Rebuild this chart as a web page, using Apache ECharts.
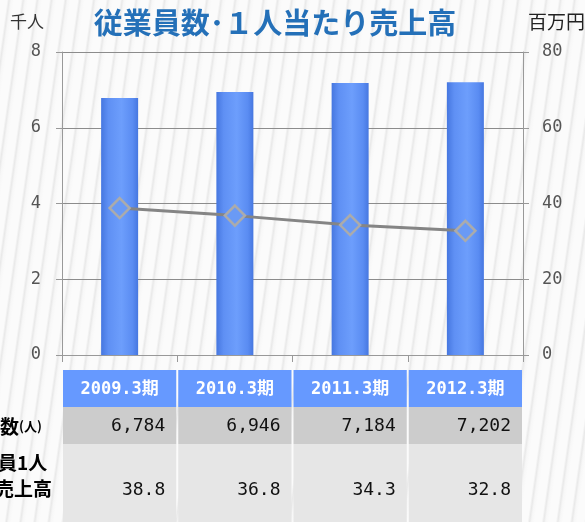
<!DOCTYPE html>
<html><head><meta charset="utf-8">
<script src="https://cdn.jsdelivr.net/npm/echarts@6/dist/echarts.min.js"></script>
<style>
html,body{margin:0;padding:0;}
body{width:585px;height:522px;overflow:hidden;
background:#f6f6f6 repeating-linear-gradient(98deg,#fbfbfb 0px,#fbfbfb 7px,#e9e9e9 9px,#f7f7f7 11px,#fbfbfb 14px);}
#c{width:585px;height:522px;}
</style></head>
<body><div id="c"></div>
<script>
const categories = ['2009.3期','2010.3期','2011.3期','2012.3期'];
const employeeCounts = [6784, 6946, 7184, 7202];
const salesPerEmployee = [38.8, 36.8, 34.3, 32.8];
const leftTicks = [0, 2, 4, 6, 8];
const rightTicks = [0, 20, 40, 60, 80];

const employeesThousand = employeeCounts.map(v => v / 1000);
const mono = '"DejaVu Sans Mono","Noto Sans CJK JP",monospace';
const jp = '"Noto Sans CJK JP",sans-serif';

const chart = echarts.init(document.getElementById('c'), null, {renderer:'canvas'});
const gridL = 62, gridR = 62, gridT = 52, gridB = 167;

const option = {
  backgroundColor: 'transparent',
  animation: false,
  grid: {left: gridL, right: gridR, top: gridT, bottom: gridB},
  xAxis: {
    type: 'category', data: categories,
    axisLine: {show: true, lineStyle: {color: '#999', width: 1}},
    axisTick: {show: true, length: 7, lineStyle: {color: '#999'}},
    axisLabel: {show: false},
    splitLine: {show: false}
  },
  yAxis: [
    {type: 'value', min: leftTicks[0], max: leftTicks[leftTicks.length-1], interval: 2,
     axisLine: {show: true, lineStyle: {color: '#999'}},
     axisTick: {show: true, length: 6, lineStyle: {color: '#999'}},
     axisLabel: {color: '#555', fontFamily: mono, fontSize: 17, margin: 21},
     splitLine: {show: true, lineStyle: {color: '#8c8c8c', width: 1}}},
    {type: 'value', min: rightTicks[0], max: rightTicks[rightTicks.length-1], interval: 20,
     axisLine: {show: true, lineStyle: {color: '#999'}},
     axisTick: {show: true, length: 6, lineStyle: {color: '#999'}},
     axisLabel: {color: '#555', fontFamily: mono, fontSize: 17, margin: 19},
     splitLine: {show: false}}
  ],
  series: [
    {type: 'bar', data: employeesThousand, barWidth: 37, yAxisIndex: 0,
     itemStyle: {color: new echarts.graphic.LinearGradient(0,0,1,0,[
       {offset:0,color:'#4677e0'},{offset:0.2,color:'#5f90f4'},{offset:0.55,color:'#6d9efc'},
       {offset:0.85,color:'#5a8cf2'},{offset:1,color:'#4677e0'}])}},
    {type: 'line', data: salesPerEmployee, yAxisIndex: 1, z: 5,
     lineStyle: {color: '#858585', width: 3},
     symbol: 'diamond', symbolSize: 20,
     itemStyle: {color: '#6a9af5', borderColor: '#ababab', borderWidth: 2.5}}
  ],
  graphic: []
};
chart.setOption(option);

const g = [];
g.push({type:'text', x: 275, y: 23, style:{text:'従業員数･１人当たり売上高', fill:'#2470b8', font:'bold 29px ' + jp, textAlign:'center', textVerticalAlign:'middle'}});
g.push({type:'text', x: 10, y: 22, style:{text:'千人', fill:'#333', font:'17px ' + jp, textVerticalAlign:'middle'}});
g.push({type:'text', x: 585, y: 22, style:{text:'百万円', fill:'#222', font:'19px ' + jp, textAlign:'right', textVerticalAlign:'middle'}});

const xs = categories.map((c,i) => chart.convertToPixel({xAxisIndex:0}, i));
const half = (xs.length > 1 ? (xs[1]-xs[0]) : 100) / 2;
const hTop = 370, hH = 37, r1H = 37, r2H = 80;
categories.forEach((c,i) => {
  const x0 = xs[i] - half, w = half*2;
  g.push({type:'rect', shape:{x:x0+1, y:hTop, width:w-2, height:hH}, style:{fill:'#6699ff'}});
  g.push({type:'text', x: xs[i], y: hTop + hH/2 + 1, style:{text:c, fill:'#fff', font:'bold 17px ' + mono, textAlign:'center', textVerticalAlign:'middle'}});
  g.push({type:'rect', shape:{x:x0+1, y:hTop+hH, width:w-2, height:r1H}, style:{fill:'#cccccc'}});
  g.push({type:'text', x: x0 + w - 12, y: hTop + hH + r1H/2 + 1, style:{text: employeeCounts[i].toLocaleString('en-US'), fill:'#111', font:'18px ' + mono, textAlign:'right', textVerticalAlign:'middle'}});
  g.push({type:'rect', shape:{x:x0+1, y:hTop+hH+r1H, width:w-2, height:r2H}, style:{fill:'#e6e6e6'}});
  g.push({type:'text', x: x0 + w - 12, y: hTop + hH + r1H + 46, style:{text: salesPerEmployee[i].toFixed(1), fill:'#111', font:'18px ' + mono, textAlign:'right', textVerticalAlign:'middle'}});
});
g.push({type:'text', x: 0, y: hTop + hH + r1H/2 + 1, style:{rich:{a:{font:'bold 19px ' + jp, fill:'#000'}, b:{font:'bold 13px ' + jp, fill:'#000'}}, text:'{a|数}{b|(人)}', textVerticalAlign:'middle'}});
g.push({type:'text', x: -2, y: hTop + hH + r1H + 19, style:{text:'員1人', fill:'#000', font:'bold 19px ' + jp, textVerticalAlign:'middle'}});
g.push({type:'text', x: -5, y: hTop + hH + r1H + 45, style:{text:'売上高', fill:'#000', font:'bold 19px ' + jp, textVerticalAlign:'middle'}});
chart.setOption({graphic: g});
</script></body></html>
